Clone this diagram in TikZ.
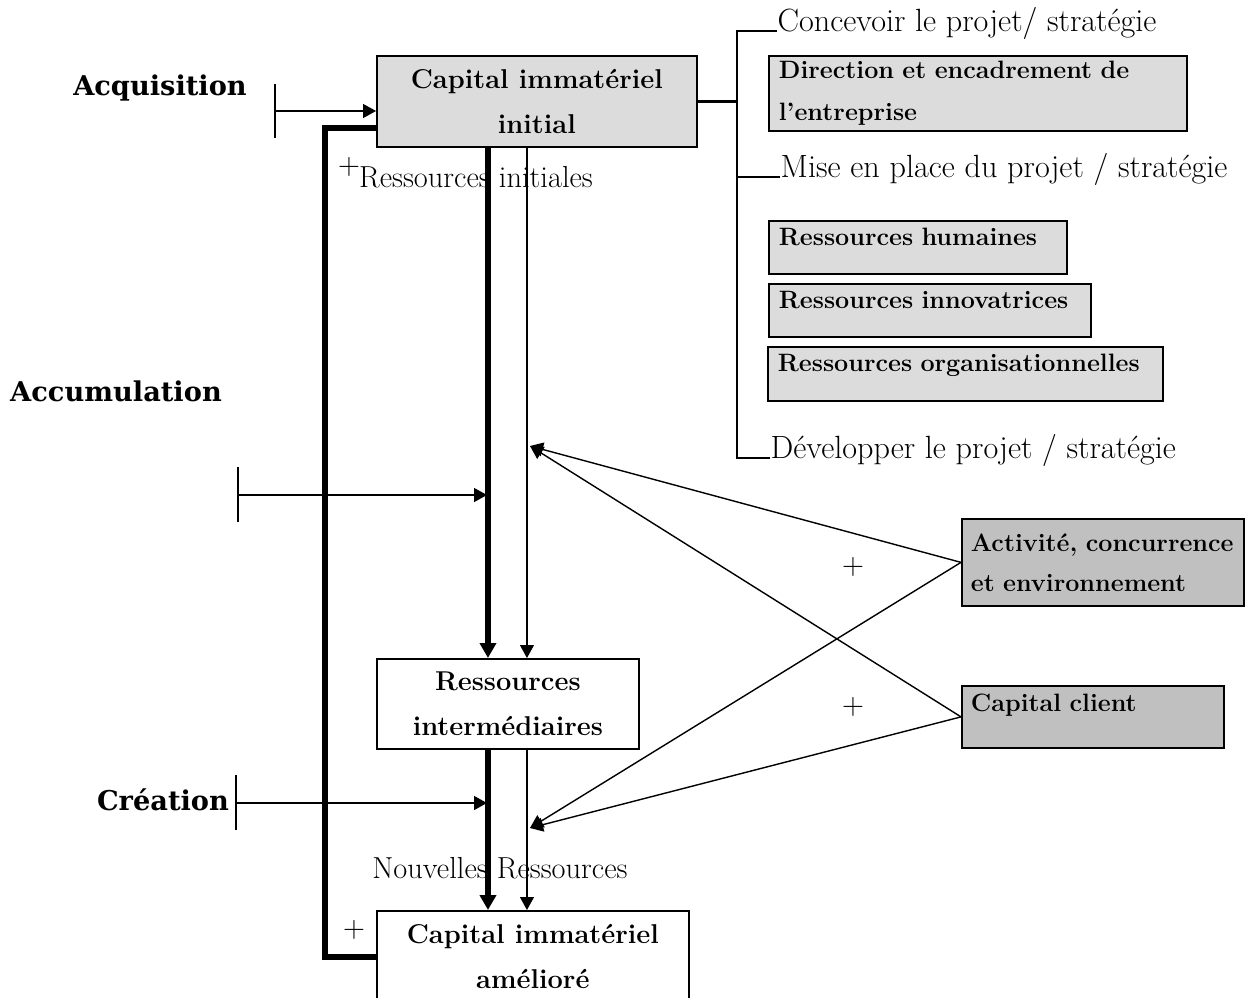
\documentclass[tikz,border=0pt]{standalone}
\usepackage{fontspec}
\newfontfamily\phasefont{DejaVu Serif}
\usetikzlibrary{arrows.meta}
\usepackage{xcolor}
\definecolor{lightbox}{HTML}{DCDCDC}
\definecolor{darkbox}{HTML}{C0C0C0}

\begin{document}
\begin{tikzpicture}[x=0.02cm,y=-0.02cm,line width=0.8pt,
		box/.style={draw,line width=1pt,anchor=north west,inner sep=0pt},
		boxtext/.style={font=\bfseries\fontsize{14.3}{24}\selectfont},
		chaintext/.style={font=\bfseries\fontsize{15.5}{25.6}\selectfont},
		plain/.style={font=\fontsize{17.3}{20}\selectfont},
		branch/.style={anchor=base west,inner sep=0pt,font=\fontsize{18.3}{22}\selectfont},
		phase/.style={font=\phasefont\bfseries\fontsize{15.5}{18}\selectfont},
		tip/.style={-{Triangle[length=0.26cm,width=0.28cm]}},
		bigtip/.style={-{Triangle[length=0.3cm,width=0.32cm]}},
		big/.style={line width=3pt}]
				\useasboundingbox (0,0) rectangle (1245,998);
				\clip (0,0) rectangle (1245,998);
				
				% main chain
				\node(cii) at (376,55)[box,chaintext,fill=lightbox,minimum width=6.4cm,minimum height=1.82cm,align=center]{Capital immatériel\\initial};
				\node(ri) at (376,658)[box,chaintext,fill=white,minimum width=5.24cm,minimum height=1.8cm,align=center]{Ressources\\intermédiaires};
				\node(cia) at (376,910)[box,chaintext,fill=white,minimum width=6.24cm,minimum height=1.84cm,align=center]{Capital immatériel\\amélioré};
				
				% phases
				\node(acq) at (160,88)[phase]{Acquisition};
				\node(accu) at (116,391)[phase]{Accumulation};
				\node(cre) at (163,800)[phase]{Création};
				\coordinate(acqbar) at (275,111);
				\coordinate(accbar) at (238,495);
				\coordinate(accend) at (487,495);
				\coordinate(crebar) at (236,803);
				\coordinate(creend) at (487,803);
				
				% texts on the flows
				\node(rinit) at (476,177)[plain]{Ressources initiales};
				\node(rnouv) at (500,868)[plain]{Nouvelles Ressources};
				\node(p1) at (349,167)[plain,inner sep=0pt]{+};
				\node(p2) at (354,930)[plain]{+};
				\node(p3) at (853,567)[plain]{+};
				\node(p4) at (853,707)[plain]{+};
				
				% right side
				\node(con) at (777,31)[branch]{Concevoir le projet/ stratégie};
				\node(mise) at (780,177)[branch]{Mise en place du projet / stratégie};
				\node(dev) at (770,458)[branch]{Développer le projet / stratégie};
				\node(dir) at (768,55)[box,boxtext,fill=lightbox,inner xsep=0.2cm,text width=7.96cm,minimum height=1.5cm,align=left]{Direction et encadrement de\\l’entreprise};
				\node(rh) at (768,220)[box,boxtext,fill=lightbox,inner xsep=0.2cm,text width=5.56cm,text height=0.5cm,text depth=0.56cm,align=left]{Ressources humaines};
				\node(rinn) at (768,283)[box,boxtext,fill=lightbox,inner xsep=0.2cm,text width=6.04cm,text height=0.5cm,text depth=0.56cm,align=left]{Ressources innovatrices};
				\node(rorg) at (767,346)[box,boxtext,fill=lightbox,inner xsep=0.2cm,text width=7.5cm,text height=0.5cm,text depth=0.58cm,align=left]{Ressources organisationnelles};
				\node(act) at (961,518)[box,boxtext,fill=darkbox,inner xsep=0.18cm,text width=5.28cm,minimum height=1.74cm,align=left,font=\bfseries\fontsize{14.3}{22.8}\selectfont]{Activité, concurrence\\et environnement};
				\node(cc) at (961,685)[box,boxtext,fill=darkbox,inner xsep=0.18cm,text width=4.88cm,text height=0.52cm,text depth=0.72cm,align=left]{Capital client};
				\coordinate(hi) at (530,446);
				\coordinate(lo) at (530,828);
				
				% tree
				\draw[line width=1.4pt] (cii.east) -- ++(39,0) coordinate(fork);
				\draw[line width=1pt] (con.base west) -| (fork) |- (dev.base west);
				\draw[line width=1pt] (mise.base west) -- (mise.base west -| fork);
				
				% phase bars
				\draw (acqbar) ++(0,-27) -- ++(0,54);
				\draw[tip] (acqbar) -- (acqbar -| cii.west);
				\draw (accbar) ++(0,-28) -- ++(0,55);
				\draw[tip] (accbar) -- (accend);
				\draw (crebar) ++(0,-28) -- ++(0,55);
				\draw[tip] (crebar) -- (creend);
				
				% flows
				\draw[big] ([yshift=-0.53cm]cii.west) -- ++(-51,0) |- (cia.west);
				\draw[big,bigtip] ([xshift=2.24cm]cii.south west) -- ([xshift=2.24cm]ri.north west);
				\draw[line width=0.7pt,tip] ([xshift=3.02cm]cii.south west) -- ([xshift=3.02cm]ri.north west);
				\draw[big,bigtip] ([xshift=2.24cm]ri.south west) -- ([xshift=2.24cm]cia.north west);
				\draw[line width=0.7pt,tip] ([xshift=3.02cm]ri.south west) -- ([xshift=3.02cm]cia.north west);
				
				% influences
				\draw[tip] (act.west) -- (hi);
				\draw[tip] (act.west) -- (lo);
				\draw[tip] (cc.west) -- (hi);
				\draw[tip] (cc.west) -- (lo);
			\end{tikzpicture}
\end{document}
